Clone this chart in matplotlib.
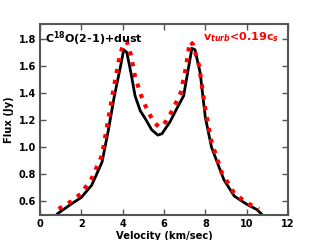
import numpy as np
import matplotlib.pyplot as plt

plt.rcParams['font.weight'] = 'bold'
plt.rcParams['axes.labelweight'] = 'bold'

# C18O(2-1)+dust model spectrum
vel_a = [0.85, 1.5, 2.0, 2.5, 3.0, 3.3, 3.6, 3.9, 4.05, 4.2, 4.4, 4.6, 4.85, 5.1,
         5.4, 5.7, 5.9, 6.3, 6.6, 6.95, 7.2, 7.35, 7.5, 7.75, 8.0, 8.3, 8.6, 8.9,
         9.4, 10.0, 10.5, 10.7]
flux_a = [0.51, 0.58, 0.63, 0.72, 0.89, 1.12, 1.38, 1.60, 1.72, 1.70, 1.55, 1.38,
          1.27, 1.21, 1.13, 1.09, 1.10, 1.19, 1.28, 1.38, 1.60, 1.73, 1.72, 1.55,
          1.22, 1.00, 0.88, 0.76, 0.64, 0.58, 0.54, 0.51]

# v_turb < 0.19 c_s
vel_b = [0.9, 1.5, 2.0, 2.5, 3.0, 3.5, 3.8, 4.0, 4.2, 4.4, 4.6, 4.9, 5.2, 5.5,
         5.75, 6.0, 6.4, 6.8, 7.05, 7.25, 7.4, 7.7, 8.0, 8.3, 8.8, 9.4, 10.0, 10.6]
flux_b = [0.545, 0.60, 0.66, 0.77, 0.94, 1.38, 1.63, 1.75, 1.78, 1.68, 1.52, 1.38,
          1.27, 1.19, 1.15, 1.17, 1.27, 1.40, 1.58, 1.78, 1.76, 1.60, 1.28, 1.04,
          0.81, 0.66, 0.59, 0.545]

fig = plt.figure(figsize=(3.2, 2.4), dpi=100)
ax = fig.add_axes([0.125, 0.104, 0.775, 0.796])

ax.plot(vel_a, flux_a, color='k', lw=2)
ax.plot(vel_b, flux_b, color='r', lw=3, ls=':')

ax.set_xlim(0, 12)
ax.set_ylim(0.5, 1.91)
ax.set_xticks(np.arange(0, 13, 2))
ax.set_yticks(np.arange(0.6, 1.81, 0.2))
ax.set_xlabel('Velocity (km/sec)', fontsize=7.2, labelpad=1)
ax.set_ylabel('Flux (Jy)', fontsize=7.2, labelpad=3)
ax.tick_params(direction='in', top=True, right=True, labelsize=7, color='#555555',
               length=4, width=1, pad=3)
for s in ax.spines.values():
    s.set_color('#555555')
    s.set_linewidth(1.5)

ax.text(0.02, 0.97, r'C$^{18}$O(2-1)+dust', transform=ax.transAxes,
        ha='left', va='top', fontsize=8, fontweight='bold')
ax.text(0.965, 0.965, r'v$_{turb}$<0.19c$_s$', transform=ax.transAxes,
        ha='right', va='top', fontsize=8, fontweight='bold', color='r')

fig.savefig('out.png', dpi=100)
